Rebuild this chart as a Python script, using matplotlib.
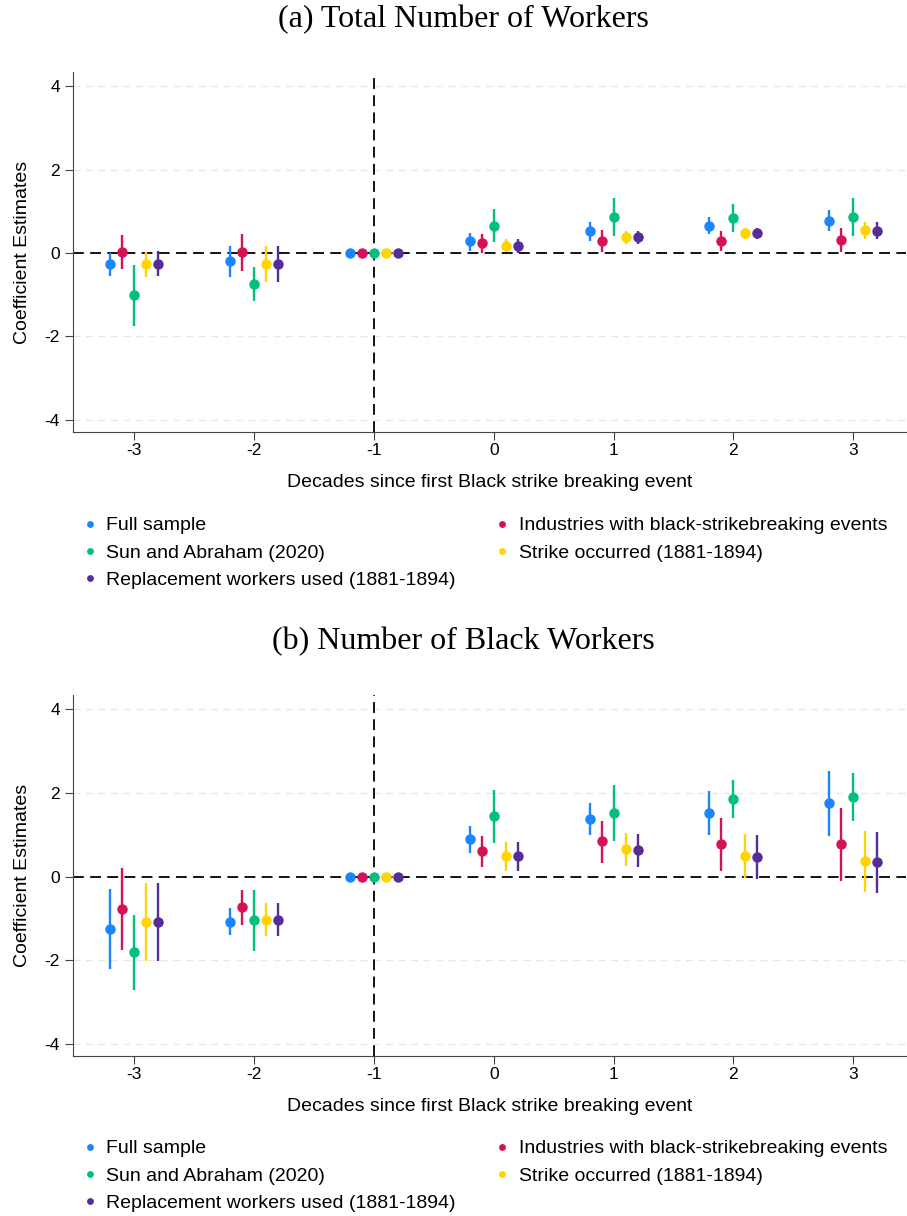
import numpy as np
import matplotlib
matplotlib.use('Agg')
from matplotlib import pyplot as plt

plt.rcParams['axes.unicode_minus'] = False
plt.rcParams['font.family'] = ['Liberation Sans', 'DejaVu Sans']

periods = [-3, -2, -1, 0, 1, 2, 3]
names = ['Full sample', 'Industries with black-strikebreaking events', 'Sun and Abraham (2020)',
         'Strike occurred (1881-1894)', 'Replacement workers used (1881-1894)']
colors = ['#1a85ff', '#d41159', '#00bf7f', '#ffd400', '#552d96']
offsets = [-0.2, -0.1, 0.0, 0.1, 0.2]

# (a) Total number of workers: estimate, lower, upper
full_a = [-0.27, -0.20, 0, 0.28, 0.52, 0.66, 0.78]
full_a_lo = [-0.55, -0.58, 0, 0.06, 0.29, 0.45, 0.53]
full_a_hi = [0.00, 0.18, 0, 0.49, 0.74, 0.86, 1.02]
ind_a = [0.02, 0.03, 0, 0.23, 0.30, 0.30, 0.31]
ind_a_lo = [-0.39, -0.42, 0, 0.01, 0.02, 0.05, 0.02]
ind_a_hi = [0.43, 0.45, 0, 0.45, 0.55, 0.53, 0.61]
sa_a = [-1.00, -0.75, 0, 0.66, 0.86, 0.85, 0.87]
sa_a_lo = [-1.74, -1.16, 0, 0.27, 0.41, 0.51, 0.41]
sa_a_hi = [-0.29, -0.33, 0, 1.05, 1.31, 1.17, 1.32]
strike_a = [-0.26, -0.26, 0, 0.18, 0.38, 0.48, 0.55]
strike_a_lo = [-0.57, -0.69, 0, 0.02, 0.22, 0.34, 0.34]
strike_a_hi = [0.03, 0.17, 0, 0.34, 0.53, 0.61, 0.74]
repl_a = [-0.26, -0.26, 0, 0.18, 0.38, 0.47, 0.54]
repl_a_lo = [-0.56, -0.69, 0, 0.01, 0.22, 0.34, 0.33]
repl_a_hi = [0.05, 0.18, 0, 0.33, 0.53, 0.60, 0.74]

# (b) Number of black workers
full_b = [-1.25, -1.08, 0, 0.89, 1.38, 1.53, 1.76]
full_b_lo = [-2.21, -1.39, 0, 0.56, 0.99, 1.00, 0.98]
full_b_hi = [-0.29, -0.76, 0, 1.21, 1.76, 2.05, 2.52]
ind_b = [-0.78, -0.73, 0, 0.61, 0.84, 0.77, 0.77]
ind_b_lo = [-1.76, -1.15, 0, 0.22, 0.33, 0.14, -0.10]
ind_b_hi = [0.20, -0.31, 0, 0.98, 1.33, 1.40, 1.64]
sa_b = [-1.81, -1.05, 0, 1.44, 1.52, 1.85, 1.90]
sa_b_lo = [-2.71, -1.79, 0, 0.81, 0.84, 1.41, 1.32]
sa_b_hi = [-0.91, -0.33, 0, 2.07, 2.19, 2.31, 2.47]
strike_b = [-1.09, -1.03, 0, 0.49, 0.65, 0.49, 0.37]
strike_b_lo = [-2.03, -1.42, 0, 0.14, 0.26, -0.04, -0.37]
strike_b_hi = [-0.16, -0.64, 0, 0.83, 1.04, 1.01, 1.09]
repl_b = [-1.09, -1.03, 0, 0.48, 0.64, 0.47, 0.34]
repl_b_lo = [-2.03, -1.42, 0, 0.14, 0.24, -0.06, -0.40]
repl_b_hi = [-0.16, -0.64, 0, 0.83, 1.02, 1.00, 1.07]

panel_a = [(full_a, full_a_lo, full_a_hi), (ind_a, ind_a_lo, ind_a_hi), (sa_a, sa_a_lo, sa_a_hi),
           (strike_a, strike_a_lo, strike_a_hi), (repl_a, repl_a_lo, repl_a_hi)]
panel_b = [(full_b, full_b_lo, full_b_hi), (ind_b, ind_b_lo, ind_b_hi), (sa_b, sa_b_lo, sa_b_hi),
           (strike_b, strike_b_lo, strike_b_hi), (repl_b, repl_b_lo, repl_b_hi)]

fig = plt.figure(figsize=(9.07, 12.16), dpi=100)
W, H = 907, 1216


def draw_panel(ax, panel):
    x0 = np.array(periods, dtype=float)
    handles = []
    for (est, lo, hi), c, off, nm in zip(panel, colors, offsets, names):
        est = np.array(est); lo = np.array(lo); hi = np.array(hi)
        ax.vlines(x0 + off, lo, hi, color=c, lw=1.7, zorder=3)
        h, = ax.plot(x0 + off, est, 'o', color=c, ms=6.5, zorder=4, label=nm)
        handles.append(h)
    ax.axhline(0, color='black', lw=1.3, dashes=(6, 3.5), zorder=2)
    ax.axvline(-1, color='black', lw=1.3, dashes=(6, 3.5), zorder=2)
    ax.set_xlim(-3.51, 3.44)
    ax.set_ylim(-4.29, 4.34)
    ax.set_yticks([-4, -2, 0, 2, 4])
    ax.set_xticks(periods)
    for g in [-4, -2, 2, 4]:
        ax.axhline(g, color='#e8e8e8', lw=1.0, dashes=(5, 4), zorder=1)
    for s in ['top', 'right']:
        ax.spines[s].set_visible(False)
    ax.spines['left'].set_color('#444444')
    ax.spines['bottom'].set_color('#444444')
    ax.tick_params(axis='both', labelsize=12.5, length=6, color='#444444', direction='out')
    ax.tick_params(axis='x', pad=2)
    ax.set_xlabel('Decades since first Black strike breaking event', fontsize=14, labelpad=11.5)
    ax.set_ylabel('Coefficient Estimates', fontsize=14, labelpad=10)
    # legend order: column-major fill of two columns
    order = [0, 2, 4, 1, 3]
    return [handles[i] for i in order], [names[i] for i in order]


def add_axes(top_px, bottom_px):
    return fig.add_axes([73 / W, 1 - bottom_px / H, (906 - 73) / W, (bottom_px - top_px) / H])


def add_legend(h, l, top_px):
    fig.legend(h, l, ncol=2, loc='upper left', bbox_to_anchor=(72 / W, 1 - top_px / H), frameon=False,
               fontsize=14, handletextpad=0.35, columnspacing=1.9, labelspacing=0.5,
               markerscale=0.6, handlelength=1.0, borderaxespad=0, borderpad=0.4)


ax1 = add_axes(72, 432)
h, l = draw_panel(ax1, panel_a)
add_legend(h, l, 509)
fig.text(463 / W, 1 - 20 / H, '(a) Total Number of Workers', ha='center', va='center',
         fontsize=23, family=['Liberation Serif', 'DejaVu Serif'])

ax2 = add_axes(695, 1056)
h, l = draw_panel(ax2, panel_b)
add_legend(h, l, 1132)
fig.text(463 / W, 1 - 642 / H, '(b) Number of Black Workers', ha='center', va='center',
         fontsize=23, family=['Liberation Serif', 'DejaVu Serif'])

fig.savefig('out.png', dpi=100)
